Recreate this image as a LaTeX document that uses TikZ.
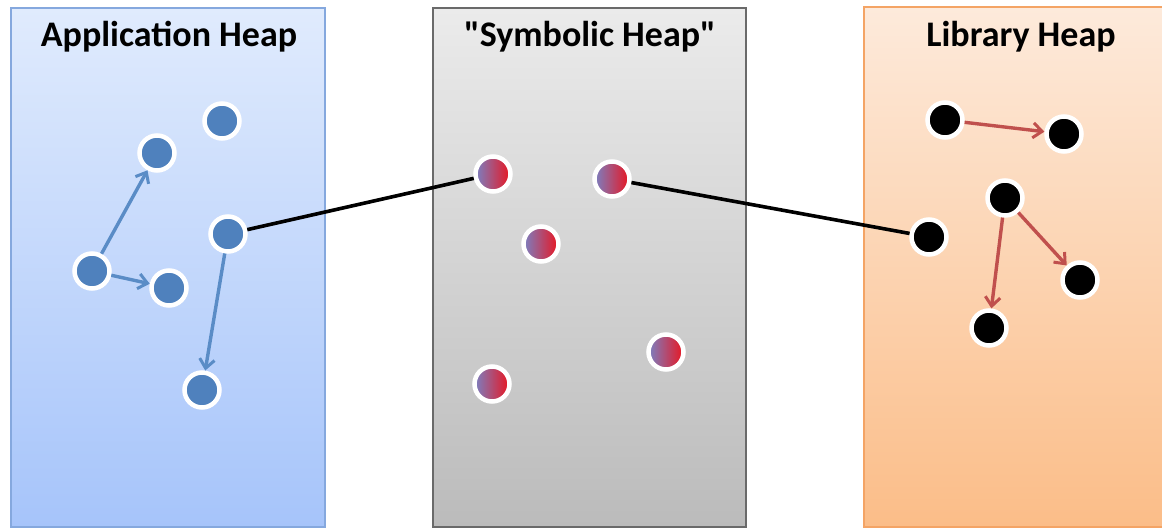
\documentclass[tikz,border=0pt]{standalone}
\usepackage{fontspec}
\setmainfont{Carlito}[Ligatures=TeXOff]
\usetikzlibrary{arrows.meta,shadows}
\definecolor{appTop}{HTML}{E0EBFD}
\definecolor{appBot}{HTML}{A6C4FA}
\definecolor{appLine}{HTML}{85A8DE}
\definecolor{symTop}{HTML}{EBEBEB}
\definecolor{symBot}{HTML}{BBBBBB}
\definecolor{symLine}{HTML}{6A6A6A}
\definecolor{libTop}{HTML}{FDEADB}
\definecolor{libBot}{HTML}{FBBD88}
\definecolor{libLine}{HTML}{F4A465}
\definecolor{appDot}{HTML}{4F81BD}
\definecolor{appArrow}{HTML}{5A8CC6}
\definecolor{libArrow}{HTML}{C0504D}
\definecolor{symLeft}{HTML}{7A80C2}
\definecolor{symRight}{HTML}{EA1520}
\tikzset{
  heap/.style={line width=1.5pt},
  title/.style={anchor=base, font=\bfseries\fontsize{36}{42}\selectfont},
  obj/.style={circle, draw=white, line width=4.5pt, minimum size=35pt, inner sep=0pt,
    drop shadow={shadow xshift=0.8pt, shadow yshift=-1.2pt, opacity=0.25, fill=black}},
  appobj/.style={obj, fill=appDot},
  symobj/.style={obj, left color=symLeft, right color=symRight},
  libobj/.style={obj, fill=black},
  ref/.style={line width=3.4pt, -{Straight Barb[length=9pt, width=15pt, line width=3pt]}},
  link/.style={line width=3.6pt, black},
}
\begin{document}
\begin{tikzpicture}[x=1pt, y=-1pt]
\useasboundingbox (0,0) rectangle (1162,529);

% heap regions
\shade[top color=appTop, bottom color=appBot] (11,8) rectangle (325,527);
\draw[heap, appLine] (11,8) rectangle (325,527);
\shade[top color=symTop, bottom color=symBot] (433,8) rectangle (746,527);
\draw[heap, symLine] (433,8) rectangle (746,527);
\shade[top color=libTop, bottom color=libBot] (864,7) rectangle (1175,527);
\draw[heap, libLine] (864,7) rectangle (1175,527);

% titles
\node[title] (tapp) at (169,47) {Application Heap};
\node[title] (tsym) at (590,47) {"Symbolic Heap"};
\node[title] (tlib) at (1021,47) {Library Heap};

% application objects
\node[appobj] (a1) at (222,121) {};
\node[appobj] (a2) at (157,153) {};
\node[appobj] (a3) at (228,234) {};
\node[appobj] (a4) at (92,271) {};
\node[appobj] (a5) at (169,288) {};
\node[appobj] (a6) at (202,390) {};

% symbolic objects
\node[symobj] (s1) at (493,174) {};
\node[symobj] (s2) at (612,179) {};
\node[symobj] (s3) at (541,244) {};
\node[symobj] (s4) at (666,352) {};
\node[symobj] (s5) at (492,384) {};

% library objects
\node[libobj] (l1) at (945,120) {};
\node[libobj] (l2) at (1064,134) {};
\node[libobj] (l3) at (1005,198) {};
\node[libobj] (l4) at (929,237) {};
\node[libobj] (l5) at (1080,280) {};
\node[libobj] (l6) at (989,328) {};

% references inside the heaps
\draw[ref, appArrow] (a4) -- (a2);
\draw[ref, appArrow] (a4) -- (a5);
\draw[ref, appArrow] (a3) -- (a6);
\draw[ref, libArrow] (l1) -- (l2);
\draw[ref, libArrow] (l3) -- (l5);
\draw[ref, libArrow] (l3) -- (l6);

% links across heaps
\draw[link] (a3) -- (s1);
\draw[link] (s2) -- (l4);
\end{tikzpicture}
\end{document}
